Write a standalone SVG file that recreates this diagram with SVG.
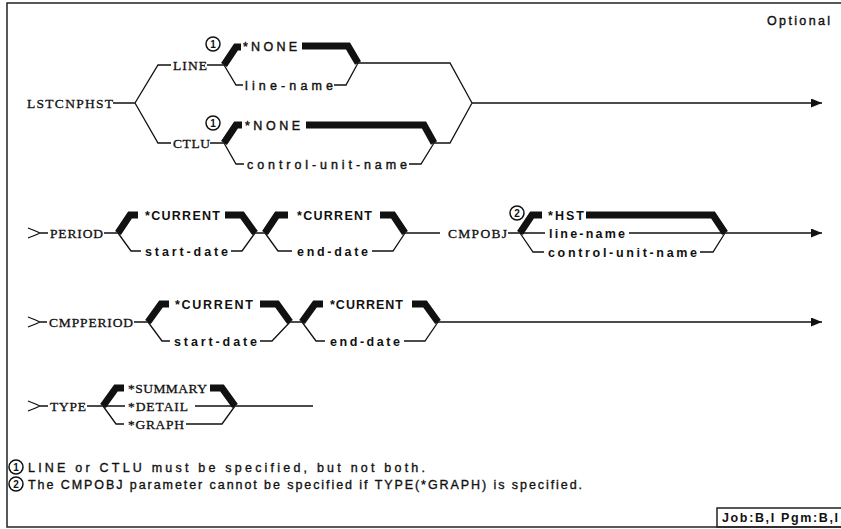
<svg xmlns="http://www.w3.org/2000/svg" width="841" height="529" viewBox="0 0 841 529">
<style>
.kw{font-family:"Liberation Serif",serif;font-size:13.5px;fill:#111;stroke:#111;stroke-width:0.3}
.v{font-family:"Liberation Sans",sans-serif;font-size:12.5px;fill:#111;stroke:#111;stroke-width:0.4}
.vb{font-family:"Liberation Sans",sans-serif;font-size:12.5px;font-weight:bold;fill:#111}
.fn{font-family:"Liberation Sans",sans-serif;font-size:12.5px;fill:#111;stroke:#111;stroke-width:0.35}
.num{font-family:"Liberation Sans",sans-serif;font-size:10px;font-weight:bold;fill:#111;text-anchor:middle}
.thin{stroke:#111;stroke-width:1.3;fill:none}
.thick{stroke:#111;stroke-width:7;fill:none;stroke-linejoin:miter;stroke-linecap:butt}
.circ{stroke:#111;stroke-width:1.5;fill:#fff}
.frame{stroke:#222;stroke-width:1.5;fill:none}
</style>
<defs>
<marker id="arr" markerUnits="userSpaceOnUse" markerWidth="11" markerHeight="9" refX="11" refY="4.5" orient="auto">
<path d="M0,0 L11,4.5 L0,9 Z" fill="#111"/>
</marker>
</defs>
<rect x="0" y="0" width="841" height="529" fill="#fff"/>
<rect class="frame" x="7" y="3" width="842" height="524"/>
<g id="optional"><text class="v" x="767" y="25" textLength="63" lengthAdjust="spacing">Optional</text></g>

<g id="connectors">
<!-- row 1 -->
<path class="thin" d="M113,103 H135 M135,103 L158,65 H171 M207,65 H224 M224,65 L236,85 H243 M334,85 H346 L358,63 M358,63 H450 L472,103 M135,103 L158,143 H171 M210,143 H224 M224,143 L236,164 H244 M409,164 H421 L434,143 M434,143 H450 L472,103"/>
<path class="thin" d="M472,103 H822" marker-end="url(#arr)"/>
<path class="thick" d="M224,65 L236,47 H241 M302,46 H348 L358,63 M224,143 L236,125 H242 M306,125 H424 L434,143"/>
<!-- row 2 -->
<path class="thin" d="M28,228 Q36,231 40,233 Q36,235 28,238 M40,233 H48 M104,233 H118 M118,233 L131,251 H141 M231,251 H242 L255,233 M255,233 H265 M265,233 L278,251 H292 M372,251 H393 L405,233 M405,233 H440 M508,233 H520 M520,233 H545 M629,233 H725 M520,233 L533,252 H544 M700,252 H713 L725,233"/>
<path class="thin" d="M725,233 H822" marker-end="url(#arr)"/>
<path class="thick" d="M118,233 L130,215 H138 M225,215 H242 L255,233 M265,233 L277,215 H288 M380,215 H393 L405,233 M520,233 L532,215 H542 M586,215 H713 L725,233"/>
<!-- row 3 -->
<path class="thin" d="M28,317 Q36,320 40,322 Q36,324 28,327 M40,322 H47 M134,322 H148 M148,322 L162,341 H170 M260,341 H272 L290,322 M290,322 H302 M302,322 L316,341 H325 M404,341 H425 L438,322"/>
<path class="thin" d="M438,322 H822" marker-end="url(#arr)"/>
<path class="thick" d="M148,322 L161,304 H169 M260,304 H277 L290,322 M302,322 L315,304 H323 M412,304 H425 L438,322"/>
<!-- row 4 -->
<path class="thin" d="M28,401 Q36,404 40,406 Q36,408 28,411 M40,406 H48 M87,406 H103 M103,406 H125 M195,406 H235 M103,406 L116,424 H124 M186,424 H222 L235,406 M235,406 H313"/>
<path class="thick" d="M103,406 L116,388 H124 M210,388 H222 L235,406"/>
</g>

<g id="lstcnphst"><text class="kw" x="27" y="108" textLength="86" lengthAdjust="spacing">LSTCNPHST</text></g>
<g id="line"><text class="kw" x="173" y="70" textLength="34" lengthAdjust="spacing">LINE</text></g>
<g id="note1a"><circle class="circ" cx="213" cy="44" r="7"/><text class="num" x="213" y="47.5">1</text></g>
<g id="line-none"><text class="v" x="243" y="50.5" textLength="54" lengthAdjust="spacing">*NONE</text></g>
<g id="line-name"><text class="v" x="245" y="89.5" textLength="88" lengthAdjust="spacing">line-name</text></g>
<g id="ctlu"><text class="kw" x="173" y="148" textLength="37" lengthAdjust="spacing">CTLU</text></g>
<g id="note1b"><circle class="circ" cx="213" cy="123" r="7"/><text class="num" x="213" y="126.5">1</text></g>
<g id="ctlu-none"><text class="v" x="245" y="129.5" textLength="55" lengthAdjust="spacing">*NONE</text></g>
<g id="ctlu-name"><text class="v" x="247" y="168.5" textLength="160" lengthAdjust="spacing">control-unit-name</text></g>

<g id="period"><text class="kw" x="50" y="238" textLength="53" lengthAdjust="spacing">PERIOD</text></g>
<g id="p-cur1"><text class="vb" x="145" y="219.5" textLength="75" lengthAdjust="spacing">*CURRENT</text></g>
<g id="p-start"><text class="vb" x="145" y="255.5" textLength="83" lengthAdjust="spacing">start-date</text></g>
<g id="p-cur2"><text class="vb" x="297" y="219.5" textLength="75" lengthAdjust="spacing">*CURRENT</text></g>
<g id="p-end"><text class="vb" x="297" y="255.5" textLength="71" lengthAdjust="spacing">end-date</text></g>
<g id="cmpobj"><text class="kw" x="448" y="238" textLength="59" lengthAdjust="spacing">CMPOBJ</text></g>
<g id="note2a"><circle class="circ" cx="517" cy="213" r="7"/><text class="num" x="517" y="216.5">2</text></g>
<g id="hst"><text class="vb" x="548" y="219.5" textLength="36" lengthAdjust="spacing">*HST</text></g>
<g id="c-line"><text class="vb" x="549" y="237.5" textLength="76" lengthAdjust="spacing">line-name</text></g>
<g id="c-ctlu"><text class="vb" x="548" y="256.5" textLength="149" lengthAdjust="spacing">control-unit-name</text></g>

<g id="cmpperiod"><text class="kw" x="49" y="327" textLength="84" lengthAdjust="spacing">CMPPERIOD</text></g>
<g id="cp-cur1"><text class="vb" x="175" y="308.5" textLength="78" lengthAdjust="spacing">*CURRENT</text></g>
<g id="cp-start"><text class="vb" x="174" y="345.5" textLength="83" lengthAdjust="spacing">start-date</text></g>
<g id="cp-cur2"><text class="vb" x="330" y="308.5" textLength="73" lengthAdjust="spacing">*CURRENT</text></g>
<g id="cp-end"><text class="vb" x="330" y="345.5" textLength="70" lengthAdjust="spacing">end-date</text></g>

<g id="type"><text class="kw" x="50" y="411" textLength="36" lengthAdjust="spacing">TYPE</text></g>
<g id="summary"><text class="kw" x="128" y="393" textLength="79" lengthAdjust="spacing">*SUMMARY</text></g>
<g id="detail"><text class="kw" x="128" y="411" textLength="60" lengthAdjust="spacing">*DETAIL</text></g>
<g id="graph"><text class="kw" x="128" y="429" textLength="56" lengthAdjust="spacing">*GRAPH</text></g>

<g id="footnote1"><circle class="circ" cx="16" cy="467" r="7"/><text class="num" x="16" y="470.5">1</text>
<text class="fn" x="28" y="471.5" textLength="397" lengthAdjust="spacing">LINE or CTLU must be specified, but not both.</text></g>
<g id="footnote2"><circle class="circ" cx="16" cy="484" r="7"/><text class="num" x="16" y="487.5">2</text>
<text class="fn" x="28" y="488.5" textLength="554" lengthAdjust="spacing">The CMPOBJ parameter cannot be specified if TYPE(*GRAPH) is specified.</text></g>
<g id="jobbox"><rect class="frame" x="717" y="508" width="130" height="19"/>
<text class="vb" x="722" y="522" textLength="116" lengthAdjust="spacing">Job:B,I Pgm:B,I</text></g>
</svg>
